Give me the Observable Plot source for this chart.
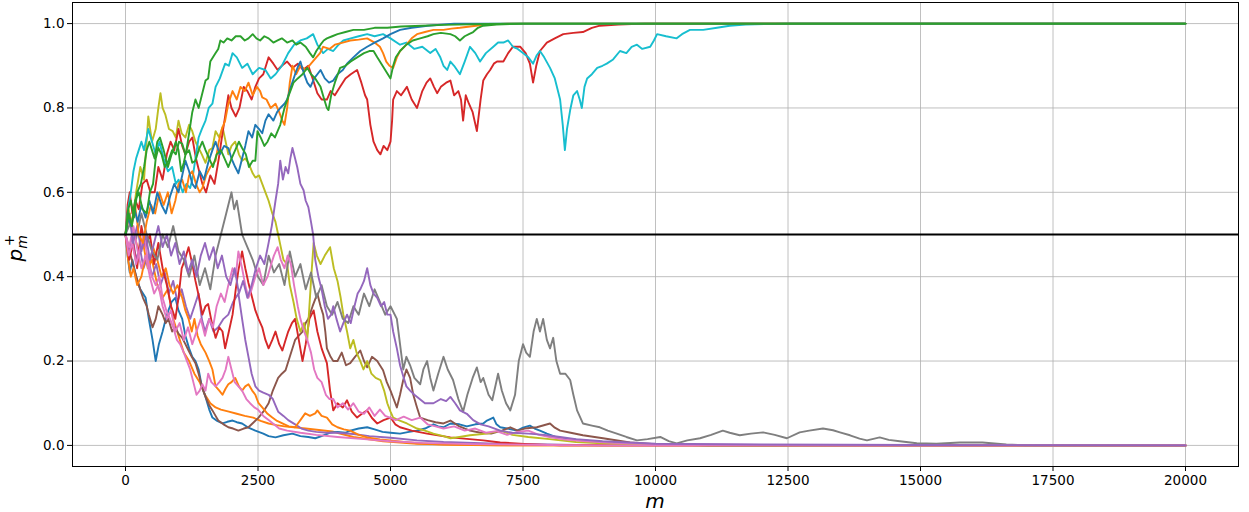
<!DOCTYPE html>
<html><head><meta charset="utf-8">
<script src="https://cdn.jsdelivr.net/npm/d3@7"></script>
<script src="https://cdn.jsdelivr.net/npm/@observablehq/plot@0.6"></script>
<style>body{margin:0;background:#fff;} svg{font-family:"DejaVu Sans",sans-serif;}</style>
</head><body><div id="chart"></div>
<script>
const xTicks = [0, 2500, 5000, 7500, 10000, 12500, 15000, 17500, 20000];
const yTicks = [0, 0.2, 0.4, 0.6, 0.8, 1.0];
const tab = {blue:"#1f77b4", orange:"#ff7f0e", green:"#2ca02c", red:"#d62728", purple:"#9467bd",
  brown:"#8c564b", pink:"#e377c2", gray:"#7f7f7f", olive:"#bcbd22", cyan:"#17becf"};

// each series: [m, p] pairs
const orangeL2 = [[0,.5],[80,.55],[160,.5],[250,.46],[330,.48],[420,.42],[500,.44],[600,.38],[700,.35],[800,.37],[900,.3],[1000,.26],[1100,.22],[1200,.2],[1300,.17],[1400,.15],[1500,.12],[1600,.1],[1700,.09],[1800,.085],[1950,.08],[2100,.075],[2250,.07],[2410,.066],[2550,.058],[2700,.052],[2850,.048],[3000,.045],[3400,.04],[3900,.033],[4300,.02],[4860,.01],[5500,.004],[6500,.001],[7500,0],[20000,0]];
const blueL = [[0,.5],[40,.45],[80,.41],[130,.44],[200,.4],[280,.37],[380,.35],[440,.3],[510,.25],[570,.2],[630,.24],[700,.27],[760,.3],[810,.32],[870,.34],[940,.35],[1000,.32],[1070,.3],[1130,.26],[1200,.23],[1260,.21],[1320,.2],[1380,.18],[1440,.14],[1510,.115],[1580,.085],[1640,.066],[1730,.058],[1830,.052],[1920,.056],[2020,.059],[2100,.055],[2200,.052],[2320,.042],[2450,.035],[2600,.028],[2700,.022],[2830,.019],[2980,.024],[3150,.028],[3300,.022],[3450,.02],[3580,.017],[3700,.022],[3850,.03],[4000,.032],[4150,.03],[4240,.035],[4400,.04],[4560,.043],[4700,.038],[4850,.032],[5000,.03],[5180,.028],[5350,.032],[5500,.035],[5650,.04],[5810,.05],[5900,.045],[6000,.043],[6130,.052],[6300,.05],[6440,.045],[6600,.05],[6750,.052],[6820,.059],[6940,.066],[7000,.05],[7070,.043],[7200,.04],[7390,.035],[7500,.042],[7630,.047],[7720,.04],[7820,.035],[7950,.028],[8140,.019],[8400,.015],[8630,.012],[9000,.008],[9270,.005],[10000,.002],[11000,0],[20000,0]];
const brownA = [[0,.5],[80,.46],[160,.42],[250,.38],[330,.35],[400,.33],[440,.31],[510,.28],[570,.3],[620,.33],[700,.31],[760,.29],[810,.3],[880,.27],[940,.28],[1000,.265],[1070,.255],[1130,.24],[1190,.225],[1250,.21],[1320,.195],[1380,.17],[1440,.14],[1510,.115],[1580,.095],[1640,.083],[1700,.07],[1750,.059],[1850,.05],[1940,.043],[2030,.04],[2130,.035],[2230,.04],[2320,.043],[2420,.055],[2510,.066],[2600,.08],[2700,.1],[2780,.13],[2880,.16],[2950,.17],[3020,.178],[3100,.21],[3200,.25],[3270,.26],[3340,.27],[3400,.29],[3450,.3],[3530,.33],[3620,.36],[3680,.33],[3730,.31],[3770,.27],[3800,.23],[3870,.21],[3920,.2],[4000,.2],[4080,.22],[4160,.19],[4240,.195],[4330,.21],[4430,.225],[4500,.2],[4560,.185],[4650,.21],[4750,.2],[4800,.19],[4860,.178],[4930,.15],[5000,.13],[5060,.11],[5120,.09],[5180,.12],[5240,.155],[5300,.18],[5370,.16],[5430,.12],[5500,.09],[5560,.066],[5700,.06],[5850,.055],[6000,.052],[6130,.059],[6300,.045],[6500,.035],[6700,.03],[6900,.028],[7100,.035],[7260,.043],[7400,.035],[7530,.04],[7760,.043],[8010,.052],[8100,.042],[8200,.035],[8400,.03],[8630,.024],[9010,.017],[9520,.007],[10000,.003],[11000,0],[20000,0]];
const purpleB = [[0,.5],[60,.46],[130,.5],[200,.44],[270,.47],[340,.42],[420,.45],[500,.4],[580,.43],[660,.38],[740,.41],[820,.36],[900,.39],[980,.34],[1060,.37],[1140,.33],[1220,.3],[1300,.33],[1380,.36],[1440,.3],[1500,.27],[1580,.3],[1660,.27],[1750,.28],[1850,.3],[1940,.31],[2030,.34],[2130,.36],[2200,.3],[2260,.25],[2320,.21],[2380,.17],[2450,.14],[2520,.13],[2600,.125],[2700,.12],[2780,.11],[2880,.08],[2980,.07],[3070,.06],[3200,.05],[3320,.04],[3450,.035],[3600,.032],[3800,.03],[4000,.03],[4300,.027],[4600,.022],[5000,.018],[5500,.012],[6000,.008],[7000,.004],[8000,.002],[9000,0],[20000,0]];
const orangeL1 = [[0,.5],[50,.44],[100,.4],[150,.42],[220,.38],[300,.4],[380,.45],[440,.42],[520,.47],[600,.44],[680,.4],[760,.42],[830,.38],[900,.36],[980,.38],[1070,.35],[1130,.32],[1190,.3],[1250,.27],[1300,.3],[1360,.26],[1420,.24],[1510,.22],[1580,.2],[1640,.18],[1700,.14],[1770,.13],[1830,.12],[1890,.135],[1940,.145],[2000,.15],[2070,.16],[2140,.14],[2200,.13],[2260,.14],[2320,.145],[2390,.13],[2450,.12],[2510,.1],[2580,.09],[2680,.075],[2770,.066],[2860,.058],[2960,.052],[3080,.045],[3200,.043],[3300,.06],[3390,.076],[3480,.07],[3580,.076],[3620,.083],[3700,.07],[3800,.066],[3900,.05],[4000,.043],[4120,.038],[4240,.035],[4400,.025],[4560,.019],[4800,.014],[5000,.012],[5250,.008],[5500,.005],[6000,.002],[7000,0],[20000,0]];
const redL = [[0,.5],[70,.44],[140,.48],[220,.42],[300,.52],[380,.47],[460,.5],[540,.43],[620,.48],[700,.42],[780,.38],[860,.33],[940,.3],[1000,.35],[1060,.42],[1120,.44],[1190,.47],[1260,.43],[1320,.39],[1390,.35],[1450,.31],[1510,.33],[1560,.335],[1630,.29],[1700,.255],[1770,.28],[1830,.27],[1880,.23],[1950,.27],[2020,.31],[2080,.37],[2130,.415],[2200,.46],[2260,.42],[2320,.385],[2390,.35],[2450,.32],[2510,.3],[2580,.28],[2640,.25],[2700,.23],[2770,.25],[2830,.27],[2900,.24],[2960,.225],[3020,.25],[3070,.27],[3140,.29],[3200,.3],[3270,.25],[3340,.2],[3400,.24],[3470,.3],[3550,.32],[3620,.27],[3700,.23],[3800,.195],[3860,.13],[3920,.083],[4000,.1],[4100,.09],[4180,.107],[4270,.08],[4370,.066],[4460,.075],[4560,.083],[4650,.065],[4750,.052],[4870,.06],[5000,.066],[5090,.05],[5180,.043],[5400,.035],[5690,.028],[6130,.019],[6750,.012],[7070,.007],[7600,.003],[8200,0],[20000,0]];
const oliveA = [[0,.5],[60,.56],[120,.52],[200,.6],[280,.66],[350,.63],[430,.78],[500,.72],[570,.75],[620,.8],[660,.835],[700,.8],[750,.785],[820,.75],[890,.745],[950,.73],[1000,.77],[1060,.74],[1130,.73],[1200,.76],[1260,.745],[1320,.72],[1380,.705],[1440,.69],[1510,.67],[1580,.7],[1640,.705],[1700,.745],[1770,.73],[1830,.755],[1890,.72],[1940,.69],[2000,.71],[2070,.72],[2140,.69],[2200,.675],[2260,.68],[2320,.67],[2400,.645],[2450,.635],[2520,.64],[2580,.62],[2640,.6],[2700,.58],[2770,.55],[2830,.53],[2880,.5],[2930,.47],[2980,.44],[3050,.43],[3100,.38],[3170,.34],[3230,.3],[3300,.27],[3370,.29],[3430,.25],[3470,.33],[3510,.41],[3550,.48],[3610,.45],[3680,.43],[3760,.45],[3860,.47],[3930,.42],[4000,.39],[4060,.35],[4110,.31],[4180,.27],[4240,.23],[4300,.25],[4360,.22],[4430,.2],[4490,.18],[4560,.2],[4640,.17],[4720,.16],[4810,.155],[4880,.13],[4940,.1],[5000,.08],[5050,.066],[5150,.06],[5310,.052],[5500,.04],[5650,.035],[5810,.028],[6000,.022],[6130,.017],[6300,.02],[6500,.024],[6820,.028],[7070,.035],[7300,.025],[7600,.02],[8000,.015],[8500,.008],[9200,.004],[10000,.002],[11000,0],[20000,0]];
const pinkL1 = [[0,.5],[60,.45],[130,.48],[200,.43],[280,.47],[350,.5],[420,.44],[500,.4],[570,.38],[640,.4],[700,.35],[770,.32],[840,.3],[900,.28],[970,.25],[1030,.24],[1100,.22],[1160,.2],[1220,.18],[1280,.15],[1340,.12],[1400,.13],[1450,.145],[1510,.13],[1560,.17],[1620,.15],[1700,.14],[1770,.15],[1830,.16],[1890,.18],[1940,.21],[2000,.18],[2060,.15],[2130,.14],[2200,.13],[2280,.11],[2350,.1],[2430,.09],[2500,.085],[2600,.07],[2700,.06],[2800,.05],[2900,.04],[3050,.035],[3300,.03],[3600,.025],[4000,.02],[4500,.015],[5000,.01],[5600,.006],[6500,.003],[8000,.001],[9000,0],[20000,0]];
const grayA = [[0,.5],[100,.53],[200,.49],[300,.55],[400,.5],[500,.46],[600,.44],[700,.5],[800,.47],[900,.52],[1000,.46],[1100,.44],[1200,.4],[1300,.45],[1400,.38],[1500,.42],[1600,.37],[1700,.45],[1800,.5],[1900,.55],[2000,.6],[2050,.56],[2100,.58],[2200,.5],[2300,.47],[2400,.44],[2500,.4],[2600,.38],[2700,.45],[2800,.41],[2900,.43],[3000,.38],[3100,.46],[3200,.4],[3300,.43],[3400,.37],[3500,.41],[3600,.35],[3700,.38],[3800,.33],[3900,.31],[4000,.34],[4100,.3],[4200,.29],[4300,.33],[4400,.31],[4500,.36],[4600,.33],[4700,.37],[4800,.34],[4900,.31],[5000,.33],[5120,.3],[5200,.22],[5240,.18],[5300,.21],[5370,.19],[5450,.16],[5560,.145],[5620,.18],[5690,.2],[5750,.16],[5810,.13],[5900,.17],[6000,.21],[6080,.18],[6180,.155],[6280,.11],[6370,.08],[6450,.12],[6550,.16],[6630,.185],[6700,.15],[6750,.16],[6850,.12],[6920,.107],[7030,.17],[7100,.13],[7180,.1],[7260,.083],[7350,.12],[7420,.2],[7500,.24],[7560,.22],[7630,.21],[7700,.27],[7760,.3],[7820,.27],[7880,.3],[7950,.25],[8010,.23],[8070,.255],[8130,.2],[8200,.17],[8300,.17],[8390,.155],[8450,.12],[8520,.083],[8630,.052],[8800,.047],[8950,.043],[9100,.035],[9270,.028],[9450,.02],[9650,.012],[9850,.015],[10090,.02],[10250,.01],[10400,.005],[10600,.012],[10840,.017],[11050,.025],[11270,.035],[11400,.03],[11590,.024],[11800,.028],[12030,.031],[12250,.025],[12480,.017],[12720,.031],[12900,.035],[13160,.04],[13350,.036],[13480,.031],[13670,.024],[13850,.016],[13990,.012],[14230,.019],[14400,.013],[14610,.01],[14930,.005],[15300,.004],[15740,.007],[16170,.007],[16620,.002],[17000,0],[20000,0]];
const pinkL2 = [[0,.5],[70,.47],[150,.52],[230,.46],[300,.42],[380,.45],[460,.4],[540,.36],[620,.38],[700,.33],[780,.3],[860,.32],[940,.27],[1020,.29],[1100,.25],[1180,.28],[1260,.24],[1340,.27],[1420,.3],[1500,.26],[1580,.3],[1650,.28],[1720,.33],[1800,.36],[1870,.34],[1940,.38],[2020,.42],[2080,.4],[2130,.46],[2200,.42],[2260,.38],[2320,.35],[2380,.37],[2450,.4],[2520,.42],[2600,.38],[2680,.4],[2750,.43],[2800,.45],[2870,.47],[2930,.44],[3000,.42],[3060,.45],[3120,.43],[3180,.38],[3250,.33],[3300,.3],[3370,.27],[3430,.25],[3500,.22],[3560,.18],[3620,.16],[3700,.15],[3780,.12],[3850,.11],[3920,.11],[4000,.09],[4100,.1],[4200,.085],[4300,.1],[4400,.08],[4500,.075],[4600,.09],[4700,.07],[4800,.085],[4900,.07],[5000,.065],[5100,.06],[5250,.068],[5400,.06],[5560,.066],[5700,.05],[5850,.045],[6000,.04],[6200,.045],[6400,.035],[6600,.04],[6800,.03],[7000,.034],[7200,.025],[7400,.032],[7600,.035],[7800,.025],[8000,.02],[8300,.014],[8700,.01],[9200,.006],[10000,.003],[12000,.001],[14000,0],[20000,0]];
const purpleA = [[0,.5],[70,.55],[140,.48],[220,.52],[300,.46],[380,.5],[460,.44],[540,.48],[620,.52],[700,.47],[780,.5],[860,.45],[940,.48],[1020,.43],[1100,.46],[1180,.41],[1260,.44],[1340,.4],[1420,.45],[1500,.48],[1580,.44],[1660,.47],[1740,.42],[1820,.45],[1900,.4],[1980,.38],[2060,.42],[2140,.36],[2220,.39],[2300,.35],[2380,.38],[2460,.42],[2540,.45],[2620,.43],[2700,.48],[2760,.52],[2830,.58],[2880,.62],[2920,.675],[2970,.63],[3020,.66],[3070,.645],[3110,.68],[3150,.705],[3200,.68],[3240,.66],[3300,.62],[3360,.605],[3400,.58],[3450,.565],[3500,.53],[3540,.5],[3580,.44],[3640,.4],[3700,.37],[3760,.33],[3820,.3],[3880,.31],[3920,.33],[3980,.3],[4050,.27],[4110,.29],[4180,.31],[4250,.29],[4320,.33],[4380,.36],[4430,.37],[4500,.39],[4560,.42],[4620,.38],[4680,.36],[4750,.35],[4820,.33],[4880,.34],[4940,.31],[5000,.31],[5050,.27],[5120,.23],[5180,.19],[5250,.16],[5300,.14],[5370,.13],[5450,.12],[5550,.11],[5650,.1],[5810,.1],[5950,.11],[6050,.105],[6130,.115],[6220,.1],[6310,.083],[6440,.075],[6560,.06],[6700,.05],[6850,.045],[7070,.035],[7300,.03],[7600,.028],[7900,.025],[8200,.02],[8500,.015],[9000,.01],[10000,.004],[12000,.002],[15000,.001],[20000,0]];
const redU = [[0,.5],[40,.57],[80,.6],[130,.55],[190,.58],[250,.56],[320,.62],[400,.63],[470,.6],[550,.6],[620,.66],[700,.63],[780,.69],[850,.72],[920,.7],[1000,.75],[1070,.71],[1130,.69],[1200,.72],[1260,.73],[1330,.68],[1390,.65],[1450,.62],[1520,.6],[1600,.64],[1680,.62],[1760,.68],[1830,.74],[1880,.78],[1940,.83],[2000,.8],[2080,.78],[2150,.8],[2230,.85],[2300,.84],[2380,.82],[2450,.85],[2520,.87],[2600,.88],[2700,.92],[2790,.905],[2870,.89],[2950,.9],[3050,.91],[3150,.895],[3250,.905],[3350,.89],[3450,.9],[3530,.87],[3620,.835],[3700,.82],[3800,.82],[3870,.84],[3950,.83],[4050,.85],[4150,.87],[4250,.88],[4370,.89],[4450,.86],[4520,.83],[4560,.82],[4620,.76],[4680,.72],[4750,.7],[4810,.69],[4870,.71],[4940,.7],[5000,.72],[5030,.77],[5050,.82],[5120,.84],[5200,.83],[5310,.85],[5400,.82],[5500,.8],[5600,.84],[5680,.86],[5750,.87],[5820,.85],[5880,.835],[5950,.85],[6050,.86],[6130,.865],[6200,.83],[6280,.84],[6330,.82],[6370,.77],[6420,.83],[6480,.81],[6550,.79],[6630,.745],[6700,.82],[6750,.865],[6820,.88],[6880,.89],[6950,.905],[7010,.91],[7130,.91],[7220,.93],[7310,.945],[7450,.945],[7550,.93],[7630,.905],[7690,.86],[7750,.9],[7820,.935],[7950,.955],[8100,.965],[8260,.975],[8450,.978],[8630,.98],[8800,.99],[8950,.995],[9300,.998],[9800,1],[20000,1]];
const cyanU = [[0,.5],[50,.56],[100,.6],[150,.65],[200,.68],[250,.7],[300,.72],[350,.7],[430,.75],[500,.72],[570,.69],[640,.72],[720,.68],[800,.65],[880,.66],[950,.62],[1000,.63],[1080,.6],[1150,.62],[1220,.61],[1260,.63],[1320,.68],[1380,.73],[1440,.75],[1510,.77],[1570,.8],[1640,.81],[1700,.85],[1780,.87],[1880,.905],[1950,.9],[2020,.93],[2100,.92],[2200,.895],[2300,.905],[2400,.88],[2520,.895],[2640,.89],[2740,.87],[2830,.88],[2950,.9],[3070,.93],[3180,.95],[3300,.96],[3420,.965],[3540,.975],[3620,.95],[3730,.93],[3820,.94],[3920,.935],[4020,.95],[4110,.96],[4250,.965],[4400,.97],[4560,.975],[4700,.97],[4860,.975],[5000,.965],[5180,.95],[5300,.955],[5450,.94],[5600,.945],[5750,.93],[5850,.94],[5940,.92],[6000,.9],[6070,.89],[6130,.91],[6200,.9],[6310,.88],[6400,.91],[6500,.945],[6600,.93],[6690,.91],[6800,.93],[6940,.945],[7030,.955],[7130,.955],[7220,.96],[7310,.945],[7400,.94],[7500,.93],[7600,.92],[7690,.905],[7760,.925],[7820,.935],[7900,.92],[8010,.895],[8100,.87],[8200,.82],[8250,.76],[8290,.7],[8330,.75],[8390,.795],[8450,.83],[8520,.84],[8570,.82],[8610,.8],[8660,.85],[8710,.87],[8800,.88],[8900,.895],[9000,.9],[9080,.905],[9200,.915],[9330,.935],[9450,.93],[9550,.945],[9650,.95],[9750,.94],[9900,.945],[9970,.96],[10030,.975],[10200,.97],[10400,.965],[10500,.975],[10650,.985],[10900,.985],[11160,.99],[11400,.995],[11700,.998],[12500,1],[20000,1]];
const orangeU = [[0,.5],[50,.55],[110,.52],[180,.57],[250,.5],[330,.48],[400,.53],[480,.57],[560,.55],[640,.6],[720,.57],[800,.6],[870,.55],[940,.58],[1000,.62],[1070,.63],[1140,.6],[1200,.64],[1260,.65],[1330,.62],[1400,.6],[1450,.61],[1520,.64],[1600,.66],[1700,.675],[1760,.72],[1820,.75],[1880,.77],[1940,.81],[2020,.84],[2100,.82],[2170,.85],[2250,.84],[2320,.86],[2400,.83],[2480,.85],[2540,.84],[2580,.825],[2660,.82],[2740,.8],[2830,.81],[2900,.79],[2960,.77],[3000,.76],[3050,.8],[3100,.86],[3150,.9],[3220,.88],[3300,.9],[3400,.89],[3500,.905],[3600,.92],[3670,.93],[3730,.945],[3850,.94],[3950,.95],[4100,.955],[4240,.96],[4400,.962],[4560,.965],[4700,.955],[4800,.945],[4860,.93],[4920,.91],[4980,.9],[5050,.895],[5120,.92],[5180,.935],[5300,.95],[5400,.965],[5500,.975],[5650,.98],[5810,.985],[6000,.985],[6150,.988],[6310,.99],[6500,.993],[6800,.998],[7200,1],[20000,1]];
const blueU = [[0,.5],[50,.54],[110,.52],[170,.56],[230,.53],[300,.57],[380,.54],[450,.58],[520,.55],[600,.6],[680,.57],[760,.55],[840,.59],[920,.62],[1000,.6],[1070,.64],[1130,.675],[1200,.65],[1260,.62],[1320,.61],[1400,.65],[1480,.63],[1560,.67],[1640,.7],[1700,.72],[1780,.69],[1860,.71],[1940,.705],[2000,.68],[2070,.66],[2130,.645],[2200,.68],[2260,.71],[2320,.745],[2390,.73],[2450,.76],[2520,.75],[2580,.74],[2640,.77],[2700,.785],[2790,.77],[2860,.79],[2920,.8],[3000,.81],[3050,.82],[3120,.85],[3200,.88],[3260,.9],[3300,.91],[3370,.88],[3430,.86],[3490,.85],[3560,.87],[3620,.88],[3680,.89],[3760,.87],[3840,.86],[3920,.865],[4000,.88],[4100,.89],[4180,.905],[4300,.92],[4430,.935],[4560,.945],[4700,.955],[4860,.965],[5000,.975],[5180,.985],[5400,.99],[5700,.995],[6200,1],[20000,1]];
const greenB = [[0,.5],[60,.55],[120,.52],[180,.58],[250,.6],[320,.56],[400,.55],[460,.6],[520,.62],[570,.68],[620,.705],[680,.69],[740,.66],[810,.675],[880,.7],[950,.69],[1010,.72],[1070,.715],[1130,.69],[1200,.7],[1260,.67],[1320,.675],[1380,.7],[1450,.72],[1510,.7],[1580,.68],[1650,.66],[1720,.69],[1800,.7],[1870,.68],[1940,.66],[2000,.68],[2070,.7],[2140,.72],[2200,.705],[2270,.69],[2330,.66],[2400,.675],[2450,.675],[2490,.745],[2550,.73],[2620,.71],[2680,.72],[2750,.74],[2820,.73],[2920,.76],[3000,.8],[3080,.83],[3170,.86],[3250,.87],[3340,.88],[3430,.895],[3500,.88],[3580,.87],[3680,.85],[3750,.82],[3800,.8],[3830,.795],[3880,.83],[3950,.86],[4050,.895],[4150,.9],[4250,.91],[4370,.92],[4500,.93],[4600,.935],[4680,.935],[4750,.92],[4850,.9],[4950,.88],[5000,.87],[5050,.9],[5100,.92],[5180,.935],[5300,.95],[5420,.96],[5560,.965],[5700,.97],[5810,.975],[5950,.978],[6130,.975],[6220,.97],[6310,.96],[6400,.97],[6480,.975],[6560,.98],[6650,.99],[6750,.995],[7000,.998],[7500,1],[20000,1]];
const greenA = [[0,.5],[50,.56],[100,.58],[160,.54],[220,.6],[290,.62],[350,.66],[400,.7],[450,.72],[500,.7],[550,.68],[600,.72],[650,.73],[720,.7],[800,.66],[870,.69],[950,.72],[1000,.7],[1050,.65],[1100,.67],[1150,.7],[1200,.74],[1260,.79],[1320,.82],[1380,.8],[1440,.83],[1510,.865],[1560,.87],[1600,.91],[1650,.92],[1700,.93],[1750,.94],[1790,.96],[1850,.955],[1920,.965],[2000,.96],[2080,.97],[2170,.97],[2250,.96],[2320,.965],[2400,.975],[2470,.965],[2540,.96],[2620,.97],[2700,.965],[2790,.955],[2870,.96],[2950,.965],[3050,.955],[3150,.96],[3220,.95],[3300,.955],[3400,.945],[3480,.93],[3540,.92],[3600,.935],[3680,.95],[3740,.96],[3800,.965],[3900,.97],[4000,.975],[4150,.98],[4300,.985],[4500,.985],[4700,.99],[4940,.99],[5200,.993],[5600,.995],[6000,.997],[6800,.999],[7500,1],[20000,1]];

const series = [
  ["orangeL2", tab.orange, orangeL2], ["blueL", tab.blue, blueL],
  ["brownA", tab.brown, brownA], ["purpleB", tab.purple, purpleB], ["orangeL1", tab.orange, orangeL1],
  ["redL", tab.red, redL], ["oliveA", tab.olive, oliveA], ["pinkL1", tab.pink, pinkL1],
  ["grayA", tab.gray, grayA], ["pinkL2", tab.pink, pinkL2], ["purpleA", tab.purple, purpleA],
  ["redU", tab.red, redU], ["cyanU", tab.cyan, cyanU], ["orangeU", tab.orange, orangeU],
  ["blueU", tab.blue, blueU], ["greenB", tab.green, greenB], ["greenA", tab.green, greenA]
];
const data = series.flatMap(([name, color, pts]) => pts.map(([m, p]) => ({name, color, m, p})));

const grid = {stroke: "#b0b0b0", strokeOpacity: 1, strokeWidth: 0.8};
const chart = Plot.plot({
  width: 1249, height: 512,
  marginLeft: 72, marginRight: 11, marginTop: 2, marginBottom: 46,
  style: {fontFamily: "DejaVu Sans, sans-serif", fontSize: "13.5px", background: "#fff", overflow: "visible"},
  x: {domain: [-1000, 21000]},
  y: {domain: [-0.05, 1.05]},
  color: {type: "identity"},
  marks: [
    Plot.gridX(xTicks, grid),
    Plot.gridY(yTicks, grid),
    Plot.line(data, {x: "m", y: "p", z: "name", stroke: "color", strokeWidth: 1.9, strokeLinejoin: "round"}),
    Plot.ruleY([0.5], {stroke: "black", strokeWidth: 2}),
    Plot.axisX(xTicks, {tickSize: 5, tickPadding: 4, tickFormat: d => String(d), label: null, fontSize: 13.5}),
    Plot.axisY(yTicks, {tickSize: 5, tickPadding: 3, tickFormat: d3.format(".1f"), label: null, fontSize: 13.5}),
    Plot.frame({stroke: "black", strokeWidth: 1})
  ]
});
document.getElementById("chart").appendChild(chart);

const svg = d3.select(chart);
svg.append("text").attr("x", 655).attr("y", 508).attr("text-anchor", "middle")
  .attr("font-family", "DejaVu Sans").attr("font-style", "italic").attr("font-size", 20).attr("fill", "black").text("m");
const yl = svg.append("text").attr("transform", "translate(22,248) rotate(-90)")
  .attr("font-family", "DejaVu Sans").attr("font-style", "italic").attr("font-size", 20).attr("fill", "black");
yl.append("tspan").text("p");
yl.append("tspan").attr("font-size", 14).attr("dy", 5).text("m");
yl.append("tspan").attr("font-size", 14).attr("font-style", "normal").attr("dx", -11).attr("dy", -13).text("+");
</script></body></html>
